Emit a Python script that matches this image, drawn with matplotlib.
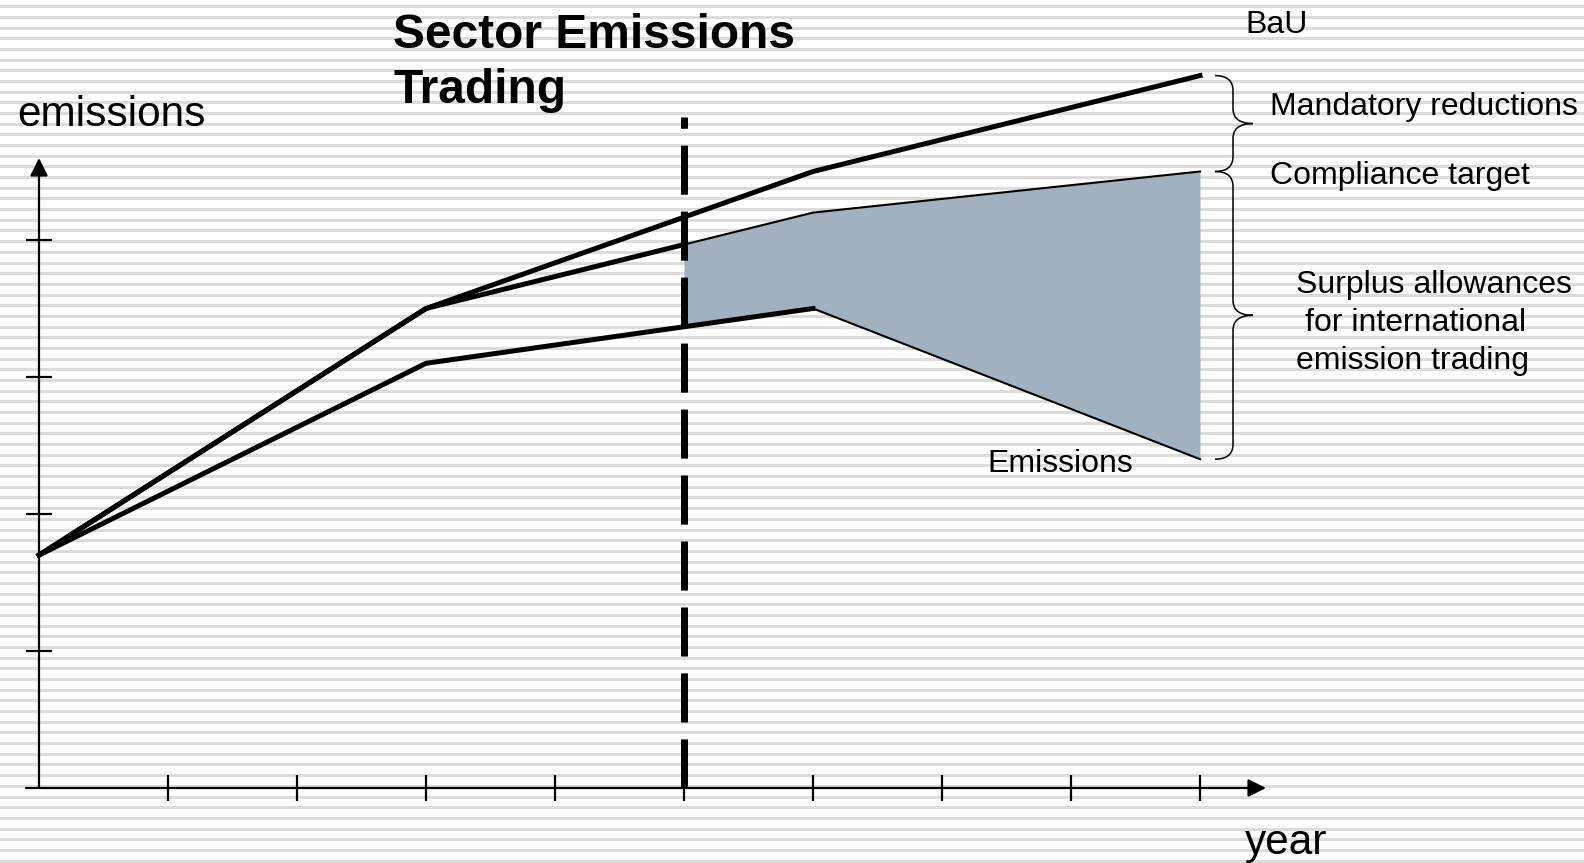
import numpy as np
import matplotlib
matplotlib.use('Agg')
import matplotlib.pyplot as plt
from matplotlib.path import Path
from matplotlib.patches import PathPatch

plt.rcParams['font.family'] = ['Liberation Sans', 'DejaVu Sans']

# 数据: 年份节点和三条曲线
years = [0, 3, 6, 9]
bau = [1.7, 3.5, 4.5, 5.2]
compliance = [1.7, 3.5, 4.2, 4.5]
emissions = [1.7, 3.1, 3.5, 2.4]
start_year = 5          # 虚线 / 交易开始
x_ticks = list(range(1, 10))
y_ticks = [1, 2, 3, 4]

# 像素 -> 数据 的换算 (原图 1584x863)
X0, XS = 39, 129.0
Y0, YS = 788, 137.0
def to_data(px, py):
    return (px - X0) / XS, (Y0 - py) / YS
def to_px(x, y):
    return X0 + x * XS, Y0 - y * YS

fig = plt.figure(figsize=(15.84, 8.63), dpi=100)

# 背景条纹
bg = fig.add_axes([0, 0, 1, 1], zorder=0)
bg.set_xlim(0, 1584)
bg.set_ylim(863, 0)
bg.axis('off')
for c in np.arange(6.7, 863, 10.68):
    bg.axhspan(c - 1.5, c + 1.5, color='#dcdcdc', lw=0)

ax = fig.add_axes([0, 0, 1, 1], zorder=1)
ax.set_facecolor('none')
ax.set_xlim(to_data(0, 0)[0], to_data(1584, 0)[0])
ax.set_ylim(to_data(0, 863)[1], to_data(0, 0)[1])
ax.axis('off')

# 坐标轴和箭头
arrow = dict(arrowstyle='-|>,head_length=0.4,head_width=0.2', lw=1.6,
             color='black', mutation_scale=27, shrinkA=0, shrinkB=0)
ax.annotate('', xy=(0, to_data(0, 158)[1]), xytext=(0, 0), arrowprops=arrow)
ax.annotate('', xy=(to_data(1266, 0)[0], 0), xytext=(to_data(26, 0)[0], 0),
            arrowprops=arrow)
ax.vlines(x_ticks, -13 / YS, 13 / YS, color='black', lw=1.6)
ax.hlines(y_ticks, -13 / XS, 13 / XS, color='black', lw=1.6)

# 填充区域 (剩余配额)
xf = np.array([start_year, 6, 9])
ax.fill_between(xf, np.interp(xf, years, compliance), np.interp(xf, years, emissions),
                color='#a2b1c0', lw=0, zorder=2)

# 虚线
ax.plot([start_year, start_year], [0, to_data(0, 117)[1]], color='black', lw=5,
        dashes=(7.07, 2.43), solid_capstyle='butt', dash_capstyle='butt', zorder=3)

# 曲线: 粗线部分和细线部分
thick, thin = 3.6, 1.5
ax.plot(years, bau, color='black', lw=thick, zorder=4)
c5 = np.interp(start_year, years, compliance)
ax.plot([0, 3, start_year], [compliance[0], compliance[1], c5], color='black', lw=thick, zorder=4)
ax.plot([start_year, 6, 9], [c5, compliance[2], compliance[3]], color='black', lw=thin, zorder=4)
ax.plot(years[:3], emissions[:3], color='black', lw=thick, zorder=4)
ax.plot(years[2:], emissions[2:], color='black', lw=thin, zorder=4)

# 大括号
def brace(top, bot):
    x_end = to_px(years[-1], 0)[0]
    x0, xs, xt = x_end + 15, x_end + 33, x_end + 53
    ty, by = to_px(0, top)[1], to_px(0, bot)[1]
    mid = (ty + by) / 2
    r = 15
    pts = [(x0, ty), (xs, ty), (xs, ty + r), (xs, mid - r), (xs, mid), (xt, mid),
           (xs, mid), (xs, mid + r), (xs, by - r), (xs, by), (x0, by)]
    codes = [Path.MOVETO, Path.CURVE3, Path.CURVE3, Path.LINETO, Path.CURVE3, Path.CURVE3,
             Path.CURVE3, Path.CURVE3, Path.LINETO, Path.CURVE3, Path.CURVE3]
    pts = [to_data(px, py) for px, py in pts]
    ax.add_patch(PathPatch(Path(pts, codes), fill=False, lw=1.1, color='black', zorder=4))

brace(bau[-1], compliance[-1])
brace(compliance[-1], emissions[-1])

# 文字
fs = 23
bg.text(393, 48, 'Sector Emissions', fontsize=34.5, fontweight='bold', va='baseline')
bg.text(393, 103, 'Trading', fontsize=34.5, fontweight='bold', va='baseline')
bg.text(17, 126, 'emissions', fontsize=30.5, va='baseline')
bg.text(1245, 854, 'year', fontsize=30.5, va='baseline')
bg.text(1245, 33, 'BaU', fontsize=fs, va='baseline')
bg.text(1270, 115, 'Mandatory reductions', fontsize=fs, va='baseline')
bg.text(1270, 184, 'Compliance target', fontsize=fs, va='baseline')
for x, y, s in [(1296, 293, 'Surplus allowances'), (1305, 331, 'for international'),
                (1296, 369, 'emission trading')]:
    bg.text(x, y, s, fontsize=fs, va='baseline')
bg.text(987, 472, 'Emissions', fontsize=fs, va='baseline')

plt.savefig('out.png', dpi=100)
